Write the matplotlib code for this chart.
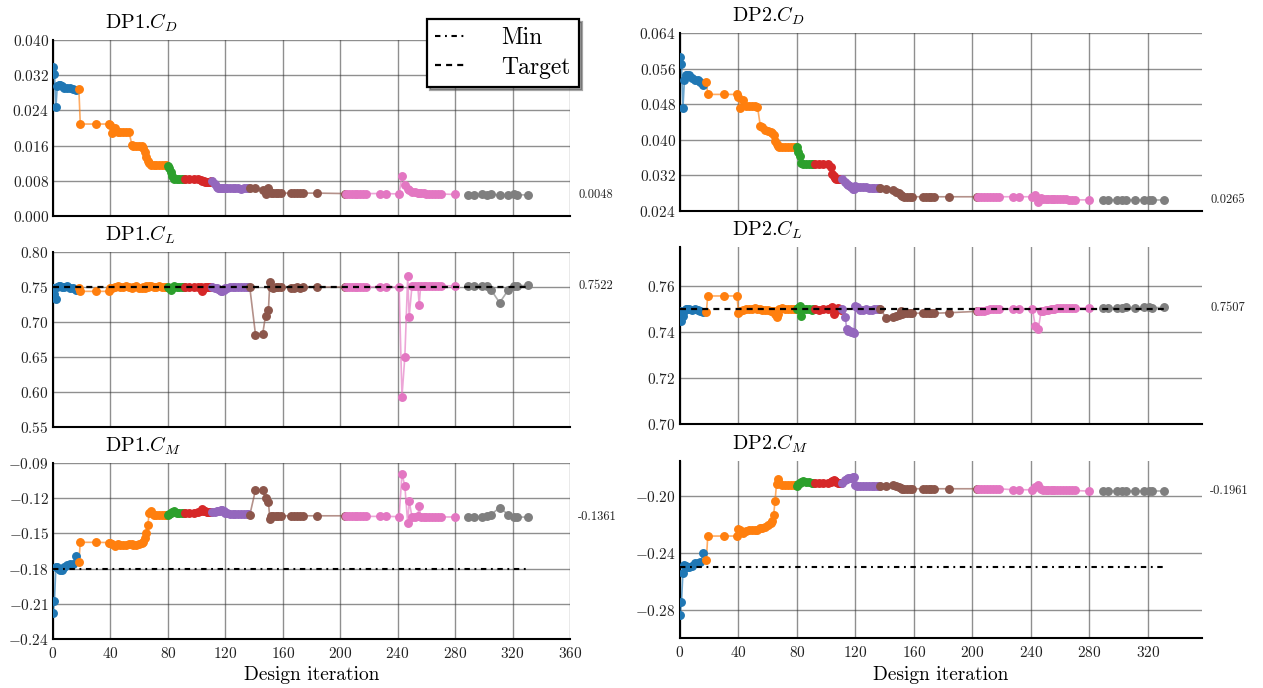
import matplotlib
matplotlib.use("Agg")
import matplotlib.pyplot as plt
import matplotlib.transforms as mtransforms

plt.rcParams['font.family'] = ['cmr10', 'DejaVu Serif']
plt.rcParams['mathtext.fontset'] = 'cm'
plt.rcParams['axes.formatter.use_mathtext'] = True
plt.rcParams['axes.formatter.useoffset'] = False

# design iterations, one list per optimisation phase (colour)
iters = [
    [0, 1, 2, 3, 4, 5, 6, 8, 10, 12, 14, 16],
    [18, 19, 30, 39, 40, 41, 43, 45, 47, 49, 51, 53, 55, 56, 58, 60, 62, 63, 64, 65,
     66, 67, 68, 70, 72, 74, 76, 78, 79],
    [80, 81, 82, 83, 84, 86, 88, 90, 91],
    [92, 95, 98, 101, 103, 104, 105, 106, 107, 108, 109, 110],
    [111, 113, 114, 115, 116, 117, 118, 119, 120, 121, 123, 125, 127, 129, 131, 133, 135, 136],
    [137, 141, 146, 148, 150, 151, 152, 153, 155, 157, 159, 166, 168, 170, 172, 174, 184, 203],
    [204, 206, 208, 210, 212, 214, 216, 218, 228, 232, 241, 243, 245, 247, 248, 250, 252, 254,
     255, 256, 258, 260, 262, 264, 266, 268, 270, 280],
    [289, 293, 299, 302, 305, 311, 317, 321, 323, 331],
]

dp1_cd = [
    [0.0339, 0.0323, 0.0247, 0.0295, 0.0298, 0.0298, 0.0295, 0.0292, 0.0290, 0.0290, 0.0288, 0.0286],
    [0.0289, 0.0209, 0.0209, 0.0209, 0.0206, 0.0188, 0.0201, 0.0191, 0.0190, 0.0190, 0.0190, 0.0190,
     0.0161, 0.0160, 0.0160, 0.0159, 0.0158, 0.0154, 0.0145, 0.0135, 0.0126, 0.0120, 0.0115, 0.0115,
     0.0115, 0.0115, 0.0115, 0.0115, 0.0116],
    [0.0114, 0.0108, 0.0100, 0.0090, 0.0084, 0.0084, 0.0084, 0.0084, 0.0085],
    [0.0084, 0.0084, 0.0084, 0.0084, 0.0082, 0.0079, 0.0080, 0.0078, 0.0078, 0.0078, 0.0078, 0.0079],
    [0.0079, 0.0072, 0.0066, 0.0064, 0.0064, 0.0064, 0.0064, 0.0063, 0.0063, 0.0063, 0.0063, 0.0063,
     0.0063, 0.0063, 0.0062, 0.0063, 0.0063, 0.0063],
    [0.0063, 0.0063, 0.0060, 0.0049, 0.0063, 0.0054, 0.0052, 0.0052, 0.0052, 0.0052, 0.0052, 0.0052,
     0.0052, 0.0052, 0.0052, 0.0052, 0.0052, 0.0051],
    [0.0051, 0.0051, 0.0051, 0.0051, 0.0051, 0.0051, 0.0051, 0.0051, 0.0051, 0.0051, 0.0050, 0.0092,
     0.0070, 0.0062, 0.0058, 0.0055, 0.0054, 0.0053, 0.0053, 0.0052, 0.0052, 0.0051, 0.0051, 0.0050,
     0.0050, 0.0050, 0.0050, 0.0049],
    [0.0048, 0.0048, 0.0049, 0.0048, 0.0049, 0.0048, 0.0048, 0.0049, 0.0048, 0.0048],
]

dp1_cl = [
    [0.748, 0.740, 0.733, 0.750, 0.751, 0.751, 0.750, 0.750, 0.751, 0.749, 0.748, 0.746],
    [0.749, 0.7438, 0.7438, 0.7438, 0.748, 0.749, 0.750, 0.751, 0.750, 0.750, 0.751, 0.750, 0.749,
     0.750, 0.751, 0.749, 0.748, 0.750, 0.749, 0.751, 0.750, 0.752, 0.751, 0.750, 0.750, 0.751,
     0.750, 0.750, 0.750],
    [0.750, 0.749, 0.7457, 0.749, 0.751, 0.7505, 0.750, 0.7505, 0.750],
    [0.750, 0.7498, 0.750, 0.7495, 0.7495, 0.745, 0.748, 0.750, 0.7505, 0.750, 0.7497, 0.750],
    [0.750, 0.749, 0.748, 0.747, 0.746, 0.745, 0.7445, 0.746, 0.748, 0.749, 0.750, 0.7505, 0.7505,
     0.750, 0.750, 0.7505, 0.750, 0.750],
    [0.750, 0.682, 0.683, 0.709, 0.717, 0.757, 0.750, 0.749, 0.750, 0.750, 0.750, 0.749, 0.749,
     0.750, 0.749, 0.750, 0.750, 0.750],
    [0.750, 0.750, 0.7505, 0.750, 0.7505, 0.750, 0.750, 0.750, 0.7505, 0.7505, 0.750, 0.5933,
     0.6505, 0.7657, 0.7076, 0.752, 0.7515, 0.752, 0.7243, 0.752, 0.752, 0.7515, 0.752, 0.752,
     0.7515, 0.752, 0.752, 0.7515],
    [0.752, 0.752, 0.752, 0.752, 0.746, 0.7276, 0.7457, 0.752, 0.752, 0.7522],
]

dp1_cm = [
    [-0.218, -0.2076, -0.179, -0.179, -0.180, -0.181, -0.181, -0.179, -0.177, -0.176, -0.176, -0.169],
    [-0.1745, -0.1576, -0.1576, -0.1578, -0.158, -0.159, -0.1605, -0.159, -0.1595, -0.1595, -0.1595,
     -0.159, -0.159, -0.1595, -0.1595, -0.159, -0.1585, -0.157, -0.154, -0.150, -0.1428, -0.133,
     -0.1312, -0.1345, -0.1345, -0.1345, -0.1345, -0.1345, -0.1345],
    [-0.1345, -0.1335, -0.133, -0.132, -0.131, -0.1325, -0.1325, -0.1325, -0.1328],
    [-0.1328, -0.133, -0.1325, -0.132, -0.1305, -0.1295, -0.1305, -0.131, -0.1315, -0.132, -0.132,
     -0.132],
    [-0.132, -0.1315, -0.131, -0.131, -0.1305, -0.1302, -0.130, -0.131, -0.1325, -0.133, -0.1335,
     -0.1337, -0.1337, -0.1337, -0.1337, -0.1337, -0.1337, -0.1337],
    [-0.1345, -0.113, -0.113, -0.120, -0.123, -0.138, -0.1355, -0.135, -0.135, -0.135, -0.135,
     -0.135, -0.135, -0.135, -0.135, -0.135, -0.135, -0.135],
    [-0.135, -0.135, -0.1355, -0.135, -0.1355, -0.135, -0.135, -0.1355, -0.1355, -0.1355, -0.1357,
     -0.0994, -0.1096, -0.1414, -0.1224, -0.136, -0.136, -0.1355, -0.127, -0.136, -0.136, -0.136,
     -0.136, -0.136, -0.136, -0.136, -0.136, -0.136],
    [-0.1361, -0.1361, -0.1361, -0.1355, -0.134, -0.128, -0.134, -0.1361, -0.1361, -0.1361],
]

dp2_cd = [
    [0.0587, 0.0570, 0.0471, 0.0534, 0.0546, 0.0546, 0.0546, 0.0540, 0.0534, 0.0534, 0.0530, 0.0523],
    [0.0531, 0.0502, 0.0502, 0.0502, 0.0496, 0.0472, 0.0489, 0.0476, 0.0475, 0.0475, 0.0475, 0.0474,
     0.0430, 0.0428, 0.0423, 0.0420, 0.0418, 0.0415, 0.0410, 0.0398, 0.0390, 0.0386, 0.0384, 0.0383,
     0.0383, 0.0383, 0.0383, 0.0383, 0.0383],
    [0.0383, 0.0372, 0.0364, 0.0348, 0.0346, 0.0346, 0.0346, 0.0346, 0.0346],
    [0.0346, 0.0346, 0.0346, 0.0345, 0.0338, 0.0323, 0.0318, 0.0315, 0.0313, 0.0313, 0.0312, 0.0312],
    [0.0312, 0.0305, 0.0300, 0.0298, 0.0296, 0.0293, 0.0290, 0.0289, 0.0297, 0.0295, 0.0294, 0.0293,
     0.0293, 0.0292, 0.0292, 0.0292, 0.0292, 0.0292],
    [0.0292, 0.0290, 0.0287, 0.0283, 0.0280, 0.0277, 0.0274, 0.0272, 0.0272, 0.0272, 0.0272, 0.0272,
     0.0272, 0.0272, 0.0272, 0.0272, 0.0272, 0.0272],
    [0.0272, 0.0272, 0.0272, 0.0272, 0.0272, 0.0272, 0.0272, 0.0272, 0.0272, 0.0272, 0.0272, 0.0276,
     0.0261, 0.0269, 0.0268, 0.0268, 0.0267, 0.0267, 0.0267, 0.0267, 0.0266, 0.0266, 0.0266, 0.0266,
     0.0265, 0.0265, 0.0265, 0.0265],
    [0.0265, 0.0265, 0.0265, 0.0265, 0.0265, 0.0265, 0.0265, 0.0265, 0.0265, 0.0265],
]

dp2_cl = [
    [0.749, 0.745, 0.747, 0.749, 0.750, 0.7502, 0.750, 0.7497, 0.750, 0.7498, 0.749, 0.7487],
    [0.7487, 0.7557, 0.7557, 0.7557, 0.7481, 0.749, 0.7497, 0.750, 0.7502, 0.750, 0.7503, 0.7502,
     0.750, 0.7498, 0.7497, 0.7495, 0.7493, 0.749, 0.749, 0.7478, 0.7464, 0.7478, 0.7502, 0.7505,
     0.750, 0.750, 0.7502, 0.750, 0.750],
    [0.750, 0.7505, 0.7514, 0.747, 0.750, 0.7502, 0.750, 0.7498, 0.750],
    [0.750, 0.7497, 0.750, 0.750, 0.7505, 0.751, 0.7477, 0.749, 0.750, 0.7505, 0.750, 0.7498],
    [0.750, 0.7465, 0.7415, 0.7406, 0.7405, 0.7402, 0.740, 0.7397, 0.7513, 0.751, 0.7495, 0.7495,
     0.750, 0.7498, 0.7495, 0.750, 0.750, 0.750],
    [0.750, 0.7462, 0.7465, 0.747, 0.7475, 0.749, 0.748, 0.7481, 0.7482, 0.7481, 0.7482, 0.7482,
     0.7483, 0.7482, 0.7483, 0.7482, 0.7484, 0.749],
    [0.749, 0.749, 0.749, 0.7495, 0.750, 0.750, 0.750, 0.750, 0.750, 0.750, 0.750, 0.7426, 0.7413,
     0.749, 0.7492, 0.7495, 0.7497, 0.750, 0.750, 0.7502, 0.7503, 0.7505, 0.7505, 0.7505, 0.7505,
     0.7505, 0.7505, 0.7505],
    [0.7506, 0.7506, 0.7505, 0.7506, 0.7507, 0.7506, 0.7507, 0.7507, 0.7506, 0.7507],
]

dp2_cm = [
    [-0.2835, -0.2749, -0.2538, -0.2484, -0.249, -0.2496, -0.2496, -0.249, -0.2468, -0.2468, -0.246,
     -0.2402],
    [-0.2449, -0.228, -0.228, -0.228, -0.2227, -0.2235, -0.2257, -0.2245, -0.224, -0.224, -0.224,
     -0.2235, -0.2225, -0.222, -0.2215, -0.2205, -0.219, -0.2173, -0.2133, -0.2035, -0.1911, -0.1876,
     -0.1905, -0.1916, -0.1916, -0.1916, -0.1916, -0.1916, -0.1916],
    [-0.1927, -0.1915, -0.1905, -0.190, -0.1892, -0.1898, -0.190, -0.1905, -0.1906],
    [-0.1906, -0.1906, -0.1905, -0.1905, -0.1895, -0.189, -0.1883, -0.189, -0.190, -0.1905, -0.1905,
     -0.1905],
    [-0.1905, -0.1885, -0.1875, -0.1871, -0.187, -0.1868, -0.1866, -0.1864, -0.1923, -0.1925, -0.1928,
     -0.193, -0.193, -0.193, -0.193, -0.193, -0.193, -0.193],
    [-0.193, -0.1925, -0.1922, -0.1928, -0.1935, -0.194, -0.1945, -0.1946, -0.1946, -0.1946, -0.1946,
     -0.1946, -0.1946, -0.1946, -0.1946, -0.1946, -0.1946, -0.1946],
    [-0.1946, -0.1946, -0.1946, -0.1946, -0.1946, -0.1946, -0.1946, -0.1946, -0.1953, -0.1953, -0.1953,
     -0.1935, -0.1923, -0.195, -0.1955, -0.1958, -0.1958, -0.1958, -0.1958, -0.1958, -0.1958, -0.1958,
     -0.1958, -0.1958, -0.1958, -0.1958, -0.1958, -0.1963],
    [-0.1961, -0.1961, -0.1961, -0.1961, -0.1961, -0.1961, -0.1961, -0.1961, -0.1961, -0.1961],
]

cl_target = 0.75
dp1_cm_min = -0.18
dp2_cm_min = -0.25

phase_colors = ['tab:blue', 'tab:orange', 'tab:green', 'tab:red',
                'tab:purple', 'tab:brown', 'tab:pink', 'tab:gray']

W, H = 1263, 688
fig = plt.figure(figsize=(W / 100, H / 100), dpi=100)


def box(x0, x1, y0, y1):
    return [x0 / W, 1 - y1 / H, (x1 - x0) / W, (y1 - y0) / H]


def panel(rect, values, title, ylim, yticks, xlim, xticks, bottom):
    ax = fig.add_axes(rect)
    for it, v, c in zip(iters, values, phase_colors):
        ax.plot(it, v, '-', color=c, lw=1.2, alpha=0.65, zorder=3)
        ax.plot(it, v, 'o', color=c, ms=5.4, zorder=4)
    ax.set_xlim(*xlim)
    ax.set_ylim(*ylim)
    ax.set_xticks(xticks)
    ax.set_yticks(yticks)
    ax.grid(True, color='0.2', alpha=0.55, lw=1.0)
    ax.set_axisbelow(True)
    for s in ['top', 'right']:
        ax.spines[s].set_visible(False)
    for s in ['left', 'bottom']:
        ax.spines[s].set_linewidth(1.5)
    ax.tick_params(length=0, labelsize=11, colors='#222222')
    ax.tick_params(axis='y', pad=3)
    ax.tick_params(axis='x', pad=5)
    if bottom:
        ax.set_xlabel('Design iteration', fontsize=14, labelpad=4)
    else:
        ax.tick_params(labelbottom=False)
    ax.annotate(title, xy=(0.1, 1), xycoords='axes fraction', xytext=(0, 8),
                textcoords='offset points', ha='left', va='baseline', fontsize=14.5)
    last = values[-1][-1]
    tr = mtransforms.blended_transform_factory(ax.transAxes, ax.transData)
    ax.text(1.016, last, f'{last:.4f}', transform=tr, ha='left', va='center',
            fontsize=9, color='#222222')
    return ax


def ref_line(ax, value, style, lw):
    line, = ax.plot([0, iters[-1][-1]], [value, value], color='black', lw=lw,
                    linestyle=style, zorder=5)
    return line


min_style = (0, (2.6, 2.2, 0.9, 2.2))
target_style = (0, (2.7, 2.3))

left_x = (0, 360), list(range(0, 361, 40))
right_x = (0, 357), list(range(0, 321, 40))

panel(box(53, 570, 40, 216), dp1_cd, r'DP1.$C_D$', (0.0, 0.040),
      [0.0, 0.008, 0.016, 0.024, 0.032, 0.040], *left_x, False)
ax = panel(box(53, 570, 252, 427), dp1_cl, r'DP1.$C_L$', (0.55, 0.80),
           [0.55, 0.60, 0.65, 0.70, 0.75, 0.80], *left_x, False)
target_line = ref_line(ax, cl_target, target_style, 1.6)
ax = panel(box(53, 570, 463, 639), dp1_cm, r'DP1.$C_M$', (-0.24, -0.09),
           [-0.24, -0.21, -0.18, -0.15, -0.12, -0.09], *left_x, True)
min_line = ref_line(ax, dp1_cm_min, min_style, 1.5)

panel(box(680, 1202, 33, 211), dp2_cd, r'DP2.$C_D$', (0.024, 0.064),
      [0.024, 0.032, 0.040, 0.048, 0.056, 0.064], *right_x, False)
ax = panel(box(680, 1202, 247, 424), dp2_cl, r'DP2.$C_L$', (0.70, 0.777),
           [0.70, 0.72, 0.74, 0.76], *right_x, False)
ref_line(ax, cl_target, target_style, 1.6)
ax = panel(box(680, 1202, 461, 638), dp2_cm, r'DP2.$C_M$', (-0.30, -0.175),
           [-0.28, -0.24, -0.20], *right_x, True)
ref_line(ax, dp2_cm_min, min_style, 1.5)

leg = fig.legend([min_line, target_line], ['Min', 'Target'], loc='upper left',
                 bbox_to_anchor=(427 / W, 1 - 19 / H), bbox_transform=fig.transFigure,
                 fancybox=False, shadow=True, edgecolor='black', framealpha=1,
                 fontsize=17, handlelength=1.3, handletextpad=1.5, borderpad=0.35,
                 labelspacing=0.3, borderaxespad=0)
leg.get_frame().set_linewidth(1.6)

fig.savefig('out.png', dpi=100)
